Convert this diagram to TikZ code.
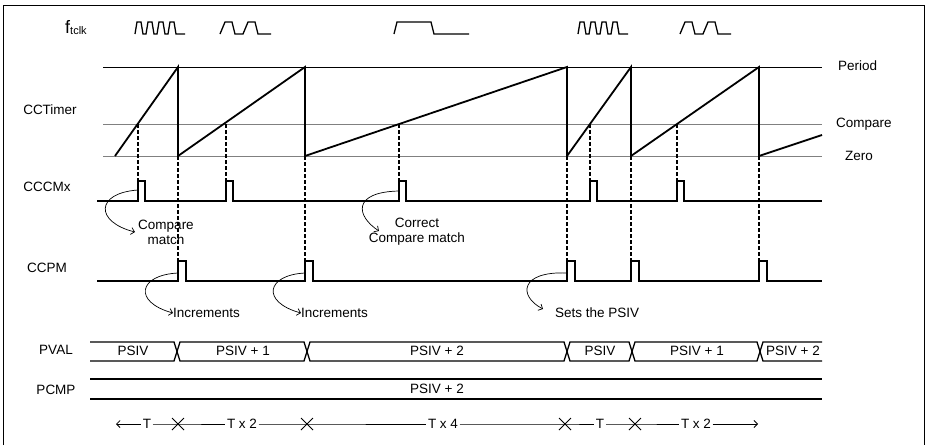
\documentclass[tikz,border=0pt]{standalone}
\usepackage{fontspec}
\setmainfont{Liberation Sans}
\usetikzlibrary{arrows.meta,arrows,positioning}

\tikzset{
  lbl/.style={font=\fontsize{13.5}{15}\selectfont, inner sep=0pt},
  sig/.style={line width=1.8pt},
  lvl/.style={line width=0.9pt},
  guide/.style={line width=1.1pt, dash pattern=on 4pt off 2pt},
  bus/.style={line width=1.3pt},
  clk/.style={line width=1.3pt},
  note/.style={line width=0.7pt, ->},
  tm/.style={line width=0.8pt},
}

\begin{document}
\begin{tikzpicture}[x=1pt,y=-1pt,>={Straight Barb[length=3.5pt,width=7pt]}]
\useasboundingbox (0,0) rectangle (926,445);
\draw[line width=0.9pt] (3,445) -- (3,5) -- (924,5) -- (924,445);

% signal names
\node[inner sep=0pt,anchor=base west] (ftclk) at (65,33)
  {\fontsize{18}{20}\selectfont f\raisebox{-1pt}{\fontsize{11}{12}\selectfont tclk}};
\node[lbl] (cctimer) at (50,110) {CCTimer};
\node[lbl] (cccmx) at (47,187) {CCCMx};
\node[lbl] (ccpm) at (47,268) {CCPM};
\node[lbl] (pval) at (56,350) {PVAL};
\node[lbl] (pcmp) at (56,390) {PCMP};

% clock glyphs
\foreach \s in {135,578}
  \draw[clk] (\s,34) foreach \k in {0,...,3}{ -- (\s+11*\k+2,22) -- (\s+11*\k+6,22) -- (\s+11*\k+8,34) -- (\s+11*\k+11,34)} -- (\s+50,34);
\foreach \s in {220,680}
  \draw[clk] (\s,34) foreach \k in {0,1}{ -- (\s+23*\k+5,22) -- (\s+23*\k+12,22) -- (\s+23*\k+15,34) -- (\s+23*\k+23,34)} -- (\s+51,34);
\draw[clk] (394,34) -- (397,22) -- (431,22) -- (434,34) -- (469,34);

% levels
\draw[lvl] (103,67) -- (822,67);
\draw[lvl,gray] (103,124) -- (822,124);
\draw[lvl,gray] (103,156) -- (822,156);
\node[lbl,anchor=west] (period) at (838,66) {Period};
\node[lbl,anchor=west] (compare) at (836,124) {Compare};
\node[lbl,anchor=west] (zero) at (845,156) {Zero};

% counter
\draw[sig] (115,156) -- (178,67) -- (178,156) -- (305,67) -- (305,156) -- (567,67)
  -- (567,156) -- (631,67) -- (631,156) -- (759,67) -- (759,156) -- (822,135);

% guides
\foreach \p in {138,226,399,590,677}
  \draw[guide] (\p,124) -- (\p,181);
\foreach \p in {178,305,567,631,759}
  \draw[guide] (\p,156) -- (\p,261);

% CCCMx and CCPM
\draw[sig] (97,201) foreach \p in {138,226,399,590,677}{ -- (\p,201) -- (\p,181) -- (\p+7,181) -- (\p+7,201)} -- (822,201);
\draw[sig] (97,281) foreach \p in {178,305,567,631,759}{ -- (\p,281) -- (\p,261) -- (\p+8,261) -- (\p+8,281)} -- (822,281);

\coordinate (cm1) at (138,190);
\coordinate (cm3) at (399,191);
\coordinate (pm1) at (178,273);
\coordinate (pm2) at (305,273);
\coordinate (pm3) at (567,273);

\node[lbl,align=center] (match) at (166,232) {Compare\\match};
\node[lbl,align=center] (correct) at (417,232) {Correct\\Compare match};
\node[lbl,anchor=west] (inc1) at (173,313) {Increments};
\node[lbl,anchor=west] (inc2) at (301,313) {Increments};
\node[lbl,anchor=west] (sets) at (555,313) {Sets the PSIV};

\coordinate (matchtip) at (135,232);
\coordinate (correcttip) at (379,231);
\coordinate (inc1tip) at (173,313);
\coordinate (inc2tip) at (301,313);
\coordinate (setstip) at (543,309);

\draw[note] (cm1) .. controls (95,193) and (95,222) .. (matchtip);
\draw[note] (cm3) .. controls (352,192) and (356,216) .. (correcttip);
\draw[note] (pm1) .. controls (138,275) and (133,302) .. (inc1tip);
\draw[note] (pm2) .. controls (266,275) and (261,302) .. (inc2tip);
\draw[note] (pm3) .. controls (520,271) and (518,296) .. (setstip);

% PVAL bus
\draw[bus] (90,342) -- (174,342) -- (180,361) -- (304,361) -- (310,342) -- (564,342) -- (570,361)
  -- (629,361) -- (635,342) -- (757,342) -- (763,361) -- (822,361);
\draw[bus] (90,361) -- (174,361) -- (180,342) -- (304,342) -- (310,361) -- (564,361) -- (570,342)
  -- (629,342) -- (635,361) -- (757,361) -- (763,342) -- (822,342);
\node[lbl] (v1) at (133,351) {PSIV};
\node[lbl] (v2) at (243,351) {PSIV + 1};
\node[lbl] (v3) at (437,351) {PSIV + 2};
\node[lbl] (v4) at (600,351) {PSIV};
\node[lbl] (v5) at (697,351) {PSIV + 1};
\node[lbl] (v6) at (793,351) {PSIV + 2};

% PCMP bus
\draw[bus] (90,379) -- (822,379);
\draw[bus] (90,399) -- (822,399);
\node[lbl] (c1) at (437,389) {PSIV + 2};

% periods
\coordinate (ta) at (116,424);
\node[lbl,inner xsep=1.5pt] (t1) at (147,424) {T};
\coordinate (x1) at (178,424);
\node[lbl,inner xsep=1.5pt] (t2) at (242,424) {T x 2};
\coordinate (x2) at (307,424);
\node[lbl,inner xsep=1.5pt] (t3) at (443,424) {T x 4};
\coordinate (x3) at (565,424);
\node[lbl,inner xsep=1.5pt] (t4) at (600,424) {T};
\coordinate (x4) at (635,424);
\node[lbl,inner xsep=1.5pt] (t5) at (696,424) {T x 2};
\coordinate (tb) at (758,424);

\draw[tm,<-] (ta) -- (t1);
\draw[tm] (t1) -- (x1) -- (t2) -- (x2) -- (t3) -- (x3) -- (t4) -- (x4) -- (t5);
\draw[tm,->] (t5) -- (tb);
\foreach \c in {x1,x2,x3,x4}
  \draw[tm] (\c) +(-6,-6) -- +(6,6) (\c) +(-6,6) -- +(6,-6);
\end{tikzpicture}
\end{document}
